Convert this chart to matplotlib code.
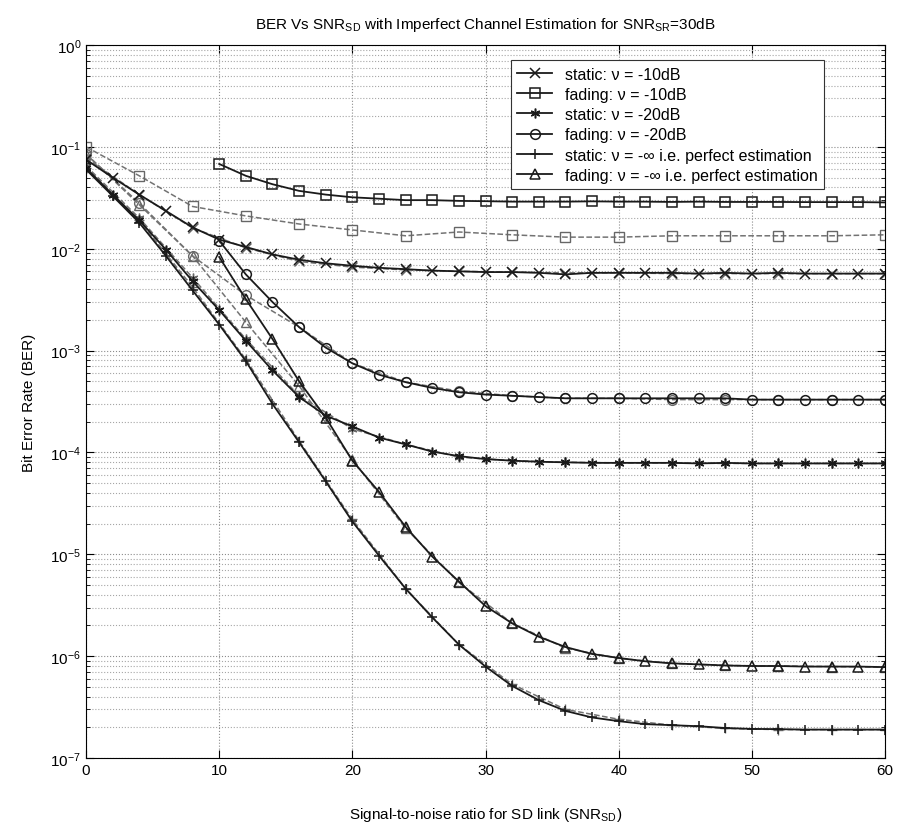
import numpy as np
import matplotlib
matplotlib.use("Agg")
import matplotlib.pyplot as plt

plt.rcParams['font.family'] = ['Liberation Sans', 'DejaVu Sans']
plt.rcParams['mathtext.default'] = 'regular'

# SNR_SD grid (dB)
snr_full = np.arange(0, 61, 2)      # solid static curves
snr_fade = np.arange(10, 61, 2)     # solid fading curves (start at 10 dB)
snr_dash = np.arange(0, 61, 4)      # dashed companion curves

# solid curves
static_m10 = [0.075, 0.05, 0.034, 0.0235, 0.0162, 0.0123, 0.0104, 0.0088, 0.0078, 0.0072,
              0.0068, 0.0065, 0.0063, 0.0061, 0.006, 0.0059, 0.0059, 0.0058, 0.0056, 0.0058,
              0.0058, 0.0058, 0.0058, 0.0057, 0.0058, 0.0057, 0.0058, 0.0057, 0.0057, 0.0057,
              0.0057]
fading_m10 = [0.068, 0.052, 0.043, 0.037, 0.034, 0.032, 0.031, 0.030, 0.030, 0.0295,
              0.0293, 0.029, 0.029, 0.029, 0.0292, 0.029, 0.029, 0.0288, 0.029, 0.0288,
              0.0288, 0.0288, 0.0287, 0.0287, 0.0287, 0.0285]
static_m20 = [0.062, 0.034, 0.019, 0.0098, 0.0048, 0.0025, 0.00125, 0.00064, 0.00035, 0.00023,
              0.00018, 0.00014, 0.00012, 0.000102, 9.2e-5, 8.6e-5, 8.3e-5, 8.1e-5, 8.0e-5, 7.9e-5,
              7.9e-5, 7.9e-5, 7.9e-5, 7.8e-5, 7.9e-5, 7.8e-5, 7.8e-5, 7.8e-5, 7.8e-5, 7.8e-5,
              7.8e-5]
fading_m20 = [0.012, 0.0056, 0.003, 0.0017, 0.00107, 0.00075, 0.00058, 0.00049, 0.00043, 0.00039,
              0.00037, 0.00036, 0.00035, 0.00034, 0.00034, 0.00034, 0.00034, 0.00034, 0.00034, 0.00034,
              0.00033, 0.00033, 0.00033, 0.00033, 0.00033, 0.00033]
static_perf = [0.06, 0.033, 0.018, 0.0085, 0.0039, 0.0018, 0.00079, 0.0003, 0.000126, 5.2e-5,
               2.1e-5, 9.7e-6, 4.6e-6, 2.4e-6, 1.3e-6, 7.9e-7, 5.1e-7, 3.7e-7, 2.9e-7, 2.5e-7,
               2.3e-7, 2.15e-7, 2.1e-7, 2.05e-7, 1.97e-7, 1.93e-7, 1.92e-7, 1.9e-7, 1.9e-7, 1.9e-7,
               1.9e-7]
fading_perf = [0.0083, 0.0032, 0.0013, 0.0005, 0.00022, 8.3e-5, 4.1e-5, 1.86e-5, 9.5e-6, 5.4e-6,
               3.1e-6, 2.1e-6, 1.55e-6, 1.23e-6, 1.05e-6, 9.6e-7, 8.9e-7, 8.5e-7, 8.3e-7, 8.1e-7,
               8.0e-7, 8.0e-7, 7.9e-7, 7.9e-7, 7.9e-7, 7.8e-7]

# dashed curves
static_m10_d = [0.078, 0.034, 0.016, 0.0102, 0.0075, 0.0066, 0.0062, 0.006, 0.0059, 0.0058,
                0.0058, 0.0057, 0.0057, 0.0057, 0.0057, 0.0057]
fading_m10_d = [0.10, 0.052, 0.026, 0.021, 0.0175, 0.0153, 0.0134, 0.0146, 0.0137, 0.013,
                0.013, 0.0134, 0.0134, 0.0134, 0.0134, 0.0137]
static_m20_d = [0.065, 0.02, 0.0052, 0.0013, 0.00036, 0.00017, 0.00012, 9e-5, 8.3e-5, 8e-5,
                7.9e-5, 7.9e-5, 7.8e-5, 7.8e-5, 7.8e-5, 7.8e-5]
fading_m20_d = [0.085, 0.028, 0.0085, 0.0035, 0.0017, 0.00075, 0.00049, 0.0004, 0.00036, 0.00034,
                0.00034, 0.00033, 0.00033, 0.00033, 0.00033, 0.00033]
static_perf_d = [0.062, 0.019, 0.0042, 0.00082, 0.00013, 2.2e-5, 4.6e-6, 1.3e-6, 5.3e-7, 3e-7,
                 2.4e-7, 2.1e-7, 1.95e-7, 1.9e-7, 1.9e-7, 1.9e-7]
fading_perf_d = [0.085, 0.027, 0.0085, 0.0019, 0.00045, 8.5e-5, 1.8e-5, 5.3e-6, 2.1e-6, 1.2e-6,
                 9.5e-7, 8.5e-7, 8.1e-7, 8e-7, 7.9e-7, 7.8e-7]

labels = ['static: ν = -10dB', 'fading: ν = -10dB', 'static: ν = -20dB',
          'fading: ν = -20dB', 'static: ν = -∞ i.e. perfect estimation',
          'fading: ν = -∞ i.e. perfect estimation']
markers = ['x', 's', (6, 2, 0), 'o', '+', '^']

solid = [(snr_full, static_m10), (snr_fade, fading_m10), (snr_full, static_m20),
         (snr_fade, fading_m20), (snr_full, static_perf), (snr_fade, fading_perf)]
dashed = [static_m10_d, fading_m10_d, static_m20_d, fading_m20_d, static_perf_d, fading_perf_d]

fig = plt.figure(figsize=(8.99, 8.37), dpi=100)
ax = fig.add_axes([0.0957, 0.0932, 0.8887, 0.8518])

# dashed companions first (grey)
for yd, mk in zip(dashed, markers):
    ax.semilogy(snr_dash, yd, ls='--', color='0.45', lw=1.1, marker=mk,
                ms=7, mfc='none', mec='0.4', mew=1.0)

for (xs, ys), mk, lab in zip(solid, markers, labels):
    ax.semilogy(xs, ys, ls='-', color='0.1', lw=1.3, marker=mk,
                ms=7, mfc='none', mec='0.1', mew=1.1, label=lab)

ax.set_xlim(0, 60)
ax.set_ylim(1e-7, 1)
ax.set_xticks(range(0, 61, 10))
ax.set_yticks([10.0 ** k for k in range(-7, 1)])
ax.tick_params(which='both', direction='in', top=True, right=True, labelsize=11)
ax.tick_params(which='major', length=6)
ax.tick_params(which='minor', length=3)
ax.xaxis.set_minor_locator(matplotlib.ticker.NullLocator())

ax.grid(which='major', ls=':', color='0.55', lw=0.8)
ax.yaxis.grid(which='minor', ls=':', color='0.65', lw=0.8)

ax.set_title('BER Vs SNR$_{SD}$ with Imperfect Channel Estimation for SNR$_{SR}$=30dB',
             fontsize=11, pad=12)
ax.set_xlabel('Signal-to-noise ratio for SD link (SNR$_{SD}$)', fontsize=11, labelpad=20)
ax.set_ylabel('Bit Error Rate (BER)', fontsize=11, labelpad=10)

leg = ax.legend(loc='upper right', bbox_to_anchor=(0.934, 0.99), fontsize=11.5,
                frameon=True, fancybox=False, edgecolor='0.2', framealpha=1,
                handlelength=2.2, borderpad=0.4, labelspacing=0.33)
leg.get_frame().set_linewidth(0.8)

fig.savefig('out.png', dpi=100)
